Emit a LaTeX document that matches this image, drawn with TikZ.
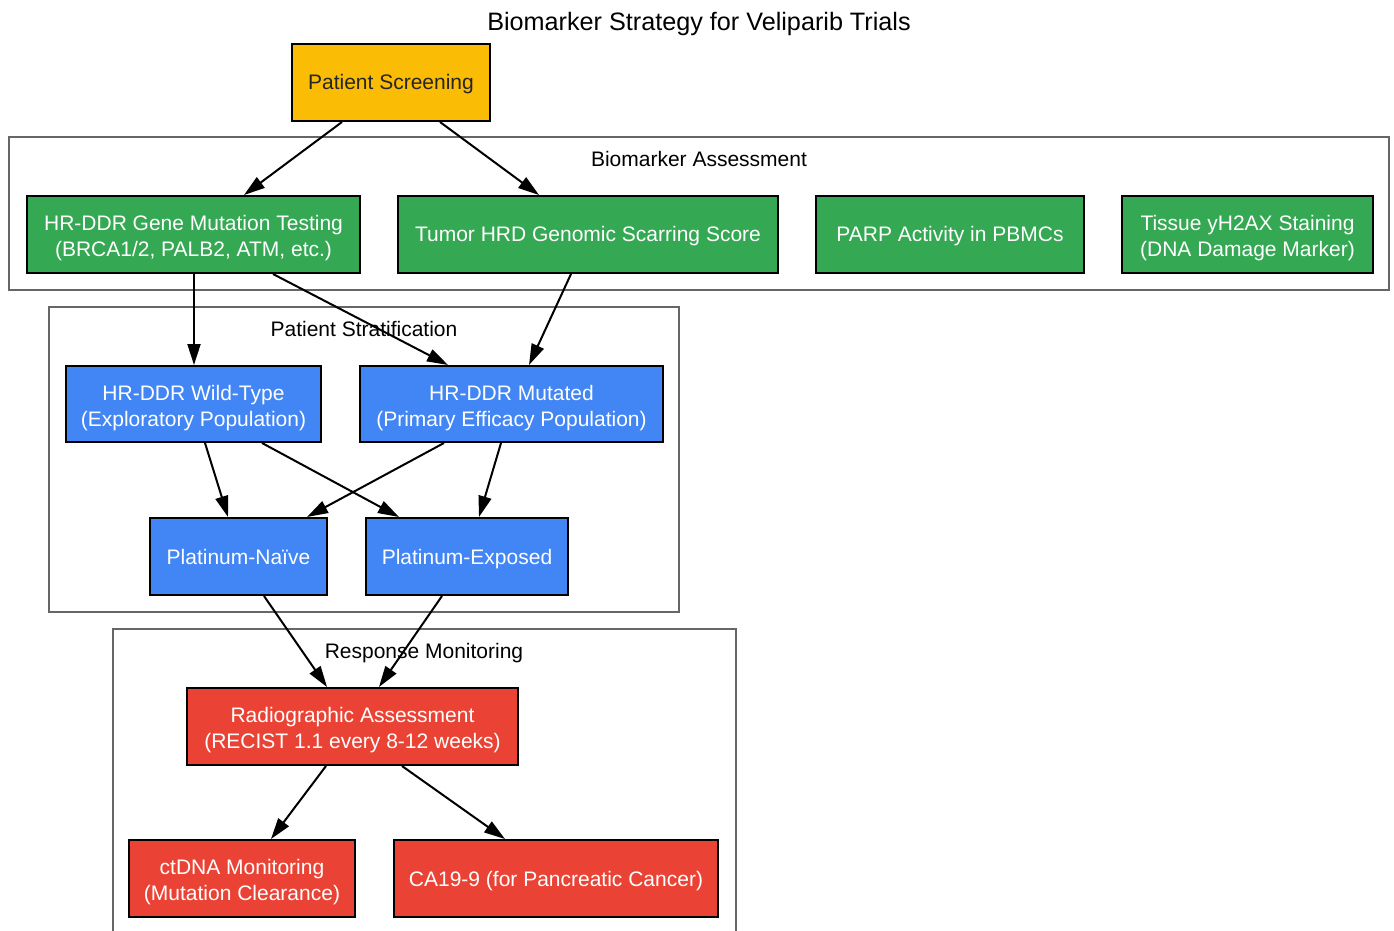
\documentclass[tikz,border=0pt]{standalone}
\usepackage{fontspec}
\setmainfont{Liberation Sans}
\usetikzlibrary{calc,arrows.meta}
\definecolor{gyellow}{HTML}{FBBC05}
\definecolor{ggreen}{HTML}{34A853}
\definecolor{gblue}{HTML}{4285F4}
\definecolor{gred}{HTML}{EA4335}
\definecolor{clgray}{HTML}{666666}
\newcommand\LinePad{\rule{0pt}{11.6pt}}
\begin{document}
\begin{tikzpicture}[x=0.5pt,y=-0.5pt,
  box/.style={draw=black,line width=1pt,rectangle,minimum height=38.5pt,inner sep=0pt,align=center,
    font=\fontsize{10.5}{13}\selectfont,text=white},
  one/.style={text height=9.5pt,text depth=2pt},
  ybox/.style={box,fill=gyellow,text=black!85},
  gbox/.style={box,fill=ggreen},
  bbox/.style={box,fill=gblue},
  rbox/.style={box,fill=gred},
  cluster/.style={draw=clgray,line width=1pt},
  cllabel/.style={font=\fontsize{10.5}{13}\selectfont,text=black,inner sep=0pt,text height=9.5pt,text depth=2pt},
  conn/.style={line width=1pt,-{Triangle[length=10.5pt,width=6.5pt]}}]
\clip (0,0) rectangle (1394,931);
\fill[white] (0,0) rectangle (1394,931);
% title
\node[font=\fontsize{12.6}{15}\selectfont,inner sep=0pt,text height=11.2pt,text depth=2pt] (title) at (699,21) {Biomarker Strategy for Veliparib Trials};
% clusters
\draw[cluster] (9,137) rectangle (1389,290);
\node[cllabel] (labA) at (699,159) {Biomarker Assessment};
\draw[cluster] (49,307) rectangle (679,612);
\node[cllabel] (labS) at (364,329) {Patient Stratification};
\draw[cluster] (113,629) rectangle (736,945);
\node[cllabel] (labR) at (424,651) {Response Monitoring};
% nodes
\node[ybox,one,minimum width=99pt] (ps) at (391,82.5) {Patient Screening};
\node[gbox,minimum width=166.5pt] (gene) at (193.5,234.5) {\LinePad HR-DDR Gene Mutation Testing\\(BRCA1/2, PALB2, ATM, etc.)};
\node[gbox,one,minimum width=190pt] (hrd) at (588,234.5) {Tumor HRD Genomic Scarring Score};
\node[gbox,one,minimum width=134pt] (parp) at (950,234.5) {PARP Activity in PBMCs};
\node[gbox,minimum width=125.5pt] (tissue) at (1247.5,234.5) {\LinePad Tissue yH2AX Staining\\(DNA Damage Marker)};
\node[bbox,minimum width=127.5pt,minimum height=38pt] (wt) at (193.5,404) {\LinePad HR-DDR Wild-Type\\(Exploratory Population)};
\node[bbox,minimum width=151.5pt,minimum height=38pt] (mut) at (511.5,404) {\LinePad HR-DDR Mutated\\(Primary Efficacy Population)};
\node[bbox,one,minimum width=88.5pt] (naive) at (238.5,556.5) {Platinum-Naïve};
\node[bbox,one,minimum width=101pt] (exp) at (467,556.5) {Platinum-Exposed};
\node[rbox,minimum width=165.5pt] (rad) at (352.5,726.5) {\LinePad Radiographic Assessment\\(RECIST 1.1 every 8-12 weeks)};
\node[rbox,minimum width=113pt] (ct) at (242,878.5) {\LinePad ctDNA Monitoring\\(Mutation Clearance)};
\node[rbox,one,minimum width=162pt] (ca) at (556,878.5) {CA19-9 (for Pancreatic Cancer)};
% connectors
\draw[conn] ($(ps.south)+(-49,0)$) -- ($(gene.north)+(50.5,0)$);
\draw[conn] ($(ps.south)+(49,0)$) -- ($(hrd.north)+(-49,0)$);
\draw[conn] ($(gene.south)+(0.5,0)$) -- ($(wt.north)+(0.5,0)$);
\draw[conn] ($(gene.south)+(79.5,0)$) -- ($(mut.north)+(-63.5,0)$);
\draw[conn] ($(hrd.south)+(-17,0)$) -- ($(mut.north)+(17.5,0)$);
\draw[conn] ($(wt.south)+(11.5,0)$) -- ($(naive.north)+(-10.5,0)$);
\draw[conn] ($(wt.south)+(68.5,0)$) -- ($(exp.north)+(-68,0)$);
\draw[conn] ($(mut.south)+(-67.5,0)$) -- ($(naive.north)+(68.5,0)$);
\draw[conn] ($(mut.south)+(-10.5,0)$) -- ($(exp.north)+(12,0)$);
\draw[conn] ($(naive.south)+(25.5,0)$) -- ($(rad.north)+(-25.5,0)$);
\draw[conn] ($(exp.south)+(-25,0)$) -- ($(rad.north)+(26.5,0)$);
\draw[conn] ($(rad.south)+(-26.5,0)$) -- ($(ct.north)+(29,0)$);
\draw[conn] ($(rad.south)+(49.5,0)$) -- ($(ca.north)+(-51,0)$);
\end{tikzpicture}
\end{document}
